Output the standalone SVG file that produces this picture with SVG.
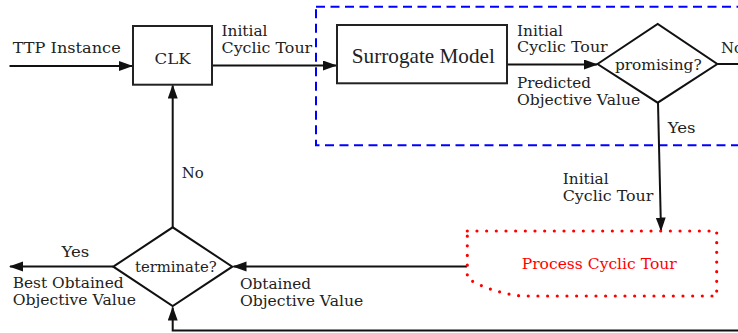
<svg xmlns="http://www.w3.org/2000/svg" width="738" height="333" viewBox="0 0 738 333">
  <style>
    .t { font-family: 'DejaVu Serif', 'Liberation Serif', serif; font-size: 15.5px; fill: #222; }
    .big { font-family: 'Liberation Serif', 'DejaVu Serif', serif; font-size: 21px; }
    .box { fill: #fff; stroke: #222; stroke-width: 2; }
    .dia { fill: #fff; stroke: #111; stroke-width: 2; stroke-linejoin: miter; }
    .con { fill: none; stroke: #111; stroke-width: 2; }
    .red { fill: #ff0000; }
  </style>
  <defs>
    <marker id="arr" markerUnits="userSpaceOnUse" markerWidth="15" markerHeight="11" refX="13" refY="5" orient="auto">
      <path d="M0,0 L14,5 L0,10 Z" fill="#111"/>
    </marker>
  </defs>
  <rect width="738" height="333" fill="#fff"/>

  <g id="surrogate-region">
    <rect x="316" y="6.7" width="440" height="138.5" fill="none" stroke="#0000ff" stroke-width="2" stroke-dasharray="9 5.5"/>
  </g>

  <g id="connectors">
    <path class="con" d="M9.5,66 H132" marker-end="url(#arr)"/>
    <path class="con" d="M212,65.5 H336" marker-end="url(#arr)"/>
    <path class="con" d="M507,64.5 H597" marker-end="url(#arr)"/>
    <path class="con" d="M717.5,64 H742"/>
    <path class="con" d="M658,103 L661,230.5" marker-end="url(#arr)"/>
    <path class="con" d="M467,266.5 H233.5" marker-end="url(#arr)"/>
    <path class="con" d="M113,266.5 H10" marker-end="url(#arr)"/>
    <path class="con" d="M172.7,227 V85.5" marker-end="url(#arr)"/>
    <path class="con" d="M742,330.5 H172.7 V307.5" marker-end="url(#arr)"/>
  </g>

  <g id="edge-labels">
    <text class="t" x="12.7" y="53.3" textLength="108" lengthAdjust="spacingAndGlyphs">TTP Instance</text>
    <text class="t"><tspan x="221.5" y="36.2" textLength="46" lengthAdjust="spacingAndGlyphs">Initial</tspan><tspan x="221.5" y="53" textLength="90.7" lengthAdjust="spacingAndGlyphs">Cyclic Tour</tspan></text>
    <text class="t"><tspan x="517" y="35.5" textLength="46" lengthAdjust="spacingAndGlyphs">Initial</tspan><tspan x="517" y="52.2" textLength="90.7" lengthAdjust="spacingAndGlyphs">Cyclic Tour</tspan></text>
    <text class="t"><tspan x="517" y="88.3" textLength="74" lengthAdjust="spacingAndGlyphs">Predicted</tspan><tspan x="517" y="105.3" textLength="123.3" lengthAdjust="spacingAndGlyphs">Objective Value</tspan></text>
    <text class="t" x="721" y="53.3" textLength="22" lengthAdjust="spacingAndGlyphs">No</text>
    <text class="t" x="667.7" y="132.7" textLength="27.8" lengthAdjust="spacingAndGlyphs">Yes</text>
    <text class="t"><tspan x="562.7" y="184" textLength="46" lengthAdjust="spacingAndGlyphs">Initial</tspan><tspan x="562.7" y="200.7" textLength="90.7" lengthAdjust="spacingAndGlyphs">Cyclic Tour</tspan></text>
    <text class="t" x="181.7" y="178.3" textLength="22" lengthAdjust="spacingAndGlyphs">No</text>
    <text class="t" x="61.5" y="256.7" textLength="27.8" lengthAdjust="spacingAndGlyphs">Yes</text>
    <text class="t"><tspan x="12.7" y="288.3" textLength="111" lengthAdjust="spacingAndGlyphs">Best Obtained</tspan><tspan x="12.7" y="305" textLength="123.3" lengthAdjust="spacingAndGlyphs">Objective Value</tspan></text>
    <text class="t"><tspan x="240" y="289" textLength="71" lengthAdjust="spacingAndGlyphs">Obtained</tspan><tspan x="240" y="305.7" textLength="123.3" lengthAdjust="spacingAndGlyphs">Objective Value</tspan></text>
  </g>

  <g id="clk">
    <rect class="box" x="133" y="26" width="79" height="58.7"/>
    <text class="t" x="172.5" y="64" text-anchor="middle" textLength="36" lengthAdjust="spacingAndGlyphs">CLK</text>
  </g>

  <g id="surrogate-model">
    <rect class="box" x="337" y="25" width="170" height="58.3"/>
    <text class="t big" x="423.3" y="63.3" text-anchor="middle" textLength="143" lengthAdjust="spacingAndGlyphs">Surrogate Model</text>
  </g>

  <g id="promising">
    <path class="dia" d="M597.5,64 L657.7,24 L717.3,64 L657.7,102.7 Z"/>
    <text class="t" x="658.3" y="69.5" text-anchor="middle" textLength="86.7" lengthAdjust="spacingAndGlyphs">promising?</text>
  </g>

  <g id="process-cyclic-tour">
    <path d="M467.3,231 H716.7 V296 H520.7 Q490,292 467.3,278.3 Z" fill="none" stroke="#ff0000" stroke-width="3.2" stroke-linecap="round" stroke-dasharray="0 9.67"/>
    <text class="t red" x="599.2" y="269" text-anchor="middle" textLength="155" lengthAdjust="spacingAndGlyphs">Process Cyclic Tour</text>
  </g>

  <g id="terminate">
    <path class="dia" d="M113.3,266.7 L172.7,227.3 L232.3,266.7 L172.7,306 Z"/>
    <text class="t" x="175.8" y="271.7" text-anchor="middle" textLength="81.7" lengthAdjust="spacingAndGlyphs">terminate?</text>
  </g>
</svg>
